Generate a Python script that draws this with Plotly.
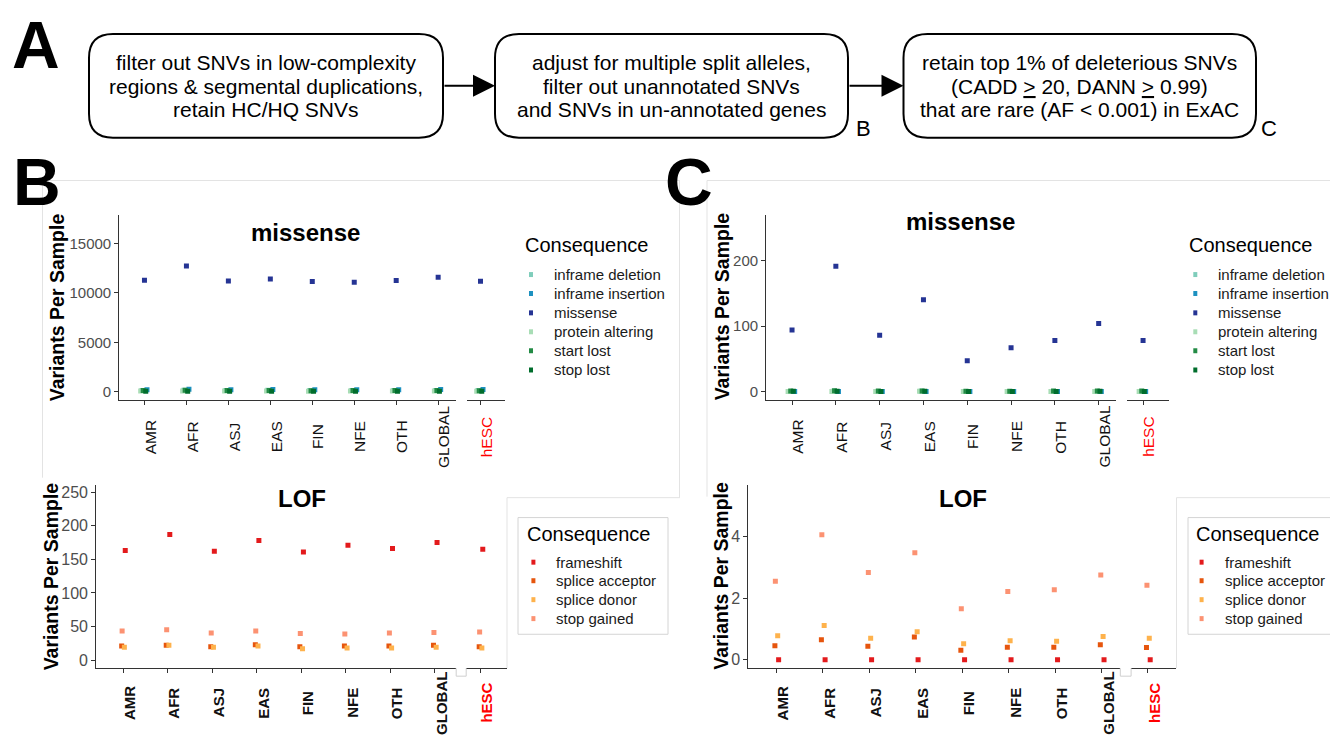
import plotly.graph_objects as go

W, H = 1330, 736
FONT = "Liberation Sans, Arial, Helvetica, sans-serif"


def px(x):
    return x / W


def py(y):
    return 1 - y / H


# ---------------- data ----------------
populations = ["AMR", "AFR", "ASJ", "EAS", "FIN", "NFE", "OTH", "GLOBAL"]
cell_lines = ["hESC"]

mis_consequences = ["inframe deletion", "inframe insertion", "missense",
                    "protein altering", "start lost", "stop lost"]
lof_consequences = ["frameshift", "splice acceptor", "splice donor", "stop gained"]

# Panel B (all HC/HQ SNVs) - order: populations..., hESC
b_inframe_deletion = [120, 140, 115, 130, 110, 120, 115, 125, 110]
b_inframe_insertion = [200, 240, 190, 210, 190, 195, 200, 205, 220]
b_missense = [11280, 12730, 11210, 11410, 11150, 11080, 11250, 11590, 11180]
b_protein_altering = [60, 70, 55, 65, 50, 60, 55, 60, 50]
b_start_lost = [110, 130, 105, 115, 100, 105, 105, 110, 100]
b_stop_lost = [40, 50, 40, 45, 38, 40, 40, 42, 40]

b_frameshift = [163, 187, 162, 178, 161, 171, 166, 175, 165]
b_splice_acceptor = [21, 22, 20, 23, 20, 21, 21, 22, 20]
b_splice_donor = [19, 22, 19, 21, 17, 18, 18, 19, 18]
b_stop_gained = [43.5, 45, 40.5, 43.5, 39.6, 39, 40.5, 41, 42]

# Panel C (rare deleterious SNVs)
c_inframe_deletion = [0.4, 0.5, 0.3, 0.6, 0.3, 0.3, 0.4, 0.4, 0.3]
c_inframe_insertion = [0.2, 0.3, 0.2, 0.4, 0.1, 0.2, 0.2, 0.2, 0.2]
c_missense = [94, 191, 86, 140, 47, 67, 78, 104, 78]
c_protein_altering = [0.3, 0.4, 0.3, 0.5, 0.2, 0.3, 0.3, 0.3, 0.3]
c_start_lost = [0.9, 1.2, 0.8, 1.0, 0.6, 0.7, 0.8, 0.9, 0.8]
c_stop_lost = [0.5, 0.6, 0.4, 0.5, 0.3, 0.4, 0.4, 0.5, 0.4]

c_frameshift = [0, 0, 0, 0, 0, 0, 0, 0, 0]
c_splice_acceptor = [0.46, 0.65, 0.44, 0.74, 0.31, 0.41, 0.41, 0.49, 0.40]
c_splice_donor = [0.78, 1.11, 0.70, 0.91, 0.52, 0.62, 0.60, 0.76, 0.70]
c_stop_gained = [2.55, 4.06, 2.83, 3.47, 1.66, 2.22, 2.27, 2.75, 2.42]

b_mis_ticks = [0, 5000, 10000, 15000]
c_mis_ticks = [0, 100, 200]
b_lof_ticks = [0, 50, 100, 150, 200, 250]
c_lof_ticks = [0, 2, 4]

# ---------------- styles ----------------
mis_colors = {"inframe deletion": "#7fcdbb", "inframe insertion": "#1d91c0",
              "missense": "#253494", "protein altering": "#a8ddb5",
              "start lost": "#238b45", "stop lost": "#006d2c"}
lof_colors = {"frameshift": "#e31a1c", "splice acceptor": "#e6550d",
              "splice donor": "#feb24c", "stop gained": "#fc9272"}
mis_offset = {"inframe deletion": -0.06, "inframe insertion": 0.06, "missense": 0.0,
              "protein altering": -0.09, "start lost": -0.03, "stop lost": 0.03}
lof_offset = {"frameshift": 0.05, "splice acceptor": -0.03,
              "splice donor": 0.03, "stop gained": -0.02}

panels = [
    dict(name="B_mis", xa="x", xb="x2", ya="y",
         series=dict(zip(mis_consequences, [b_inframe_deletion, b_inframe_insertion, b_missense,
                                             b_protein_altering, b_start_lost, b_stop_lost])),
         colors=mis_colors, offs=mis_offset,
         xdom_a=(119.3, 456.2), xr_a=(-0.6, 7.43), xdom_b=(467.1, 505.2), xr_b=(-0.32, 0.59),
         ydom=(215, 400), yr=(-840, 17850), yticks=b_mis_ticks, ytfs=15,
         label_y=437, label_fs=15.5, bold_labels=False,
         title="missense", title_xy=(305, 232), ytitle_xy=(56.4, 306.7),
         leg=dict(title_x=523, title_y=245, key_x=531, text_x=552,
                  rows=[274.3, 293.3, 312.7, 331.7, 350.7, 370], box=None)),
    dict(name="C_mis", xa="x3", xb="x4", ya="y2",
         series=dict(zip(mis_consequences, [c_inframe_deletion, c_inframe_insertion, c_missense,
                                             c_protein_altering, c_start_lost, c_stop_lost])),
         colors=mis_colors, offs=mis_offset,
         xdom_a=(766.2, 1116.2), xr_a=(-0.59, 7.4), xdom_b=(1126.5, 1169.2), xr_b=(-0.38, 0.6),
         ydom=(215, 400), yr=(-12.6, 268.5), yticks=c_mis_ticks, ytfs=15,
         label_y=437, label_fs=15.5, bold_labels=False,
         title="missense", title_xy=(960, 221), ytitle_xy=(721.5, 306.7),
         leg=dict(title_x=1186.6, title_y=245, key_x=1195.3, text_x=1216.1,
                  rows=[274.3, 293.3, 312.7, 331.7, 350.7, 370], box=None)),
    dict(name="B_lof", xa="x5", xb="x6", ya="y3",
         series=dict(zip(lof_consequences, [b_frameshift, b_splice_acceptor,
                                             b_splice_donor, b_stop_gained])),
         colors=lof_colors, offs=lof_offset,
         xdom_a=(96.3, 456.2), xr_a=(-0.6, 7.48), xdom_b=(466.2, 506.5), xr_b=(-0.32, 0.58),
         ydom=(485, 669), yr=(-12, 261), yticks=b_lof_ticks, ytfs=16,
         label_y=704, label_fs=15, bold_labels=True,
         title="LOF", title_xy=(302, 499), ytitle_xy=(51.2, 576.7),
         leg=dict(title_x=524.7, title_y=534, key_x=533.4, text_x=554.2,
                  rows=[562.7, 581.3, 600.3, 619.3], box=(518, 518, 668, 635))),
    dict(name="C_lof", xa="x7", xb="x8", ya="y4",
         series=dict(zip(lof_consequences, [c_frameshift, c_splice_acceptor,
                                             c_splice_donor, c_stop_gained])),
         colors=lof_colors, offs=lof_offset,
         xdom_a=(748.4, 1120.3), xr_a=(-0.6, 7.4), xdom_b=(1131.1, 1176.3), xr_b=(-0.36, 0.61),
         ydom=(485, 669), yr=(-0.27, 5.68), yticks=c_lof_ticks, ytfs=16,
         label_y=704, label_fs=15, bold_labels=True,
         title="LOF", title_xy=(963, 499), ytitle_xy=(721.5, 576.7),
         leg=dict(title_x=1194, title_y=534, key_x=1201.6, text_x=1223.1,
                  rows=[562.7, 581.3, 600.3, 619.3], box=(1188, 518, 1345, 635))),
]

fig = go.Figure()
annotations = []
shapes = []


def axis_key(ref):
    return ref.replace("x", "xaxis").replace("y", "yaxis")


layout_axes = {}
AX_COL = "#333333"

for p in panels:
    n_pop = len(populations)
    for cons, vals in p["series"].items():
        off = p["offs"][cons]
        col = p["colors"][cons]
        fig.add_trace(go.Scatter(
            x=[i + off for i in range(n_pop)], y=vals[:n_pop],
            xaxis=p["xa"], yaxis=p["ya"], mode="markers", name=cons,
            marker=dict(symbol="square", size=5, color=col),
            text=populations, hovertemplate="%{text}: %{y}<extra>" + cons + "</extra>",
            showlegend=False))
        fig.add_trace(go.Scatter(
            x=[i + off for i in range(len(cell_lines))], y=vals[n_pop:],
            xaxis=p["xb"], yaxis=p["ya"], mode="markers", name=cons,
            marker=dict(symbol="square", size=5, color=col),
            text=cell_lines, hovertemplate="%{text}: %{y}<extra>" + cons + "</extra>",
            showlegend=False))

    ykey = axis_key(p["ya"])
    xka = axis_key(p["xa"])
    xkb = axis_key(p["xb"])
    common_x = dict(showline=True, linecolor=AX_COL, linewidth=1.2, ticks="outside",
                    ticklen=4, tickcolor=AX_COL, tickwidth=1.2, showgrid=False,
                    zeroline=False, showticklabels=False, fixedrange=True)
    layout_axes[xka] = dict(common_x, domain=[px(p["xdom_a"][0]), px(p["xdom_a"][1])],
                            range=list(p["xr_a"]), anchor=p["ya"],
                            tickvals=list(range(len(populations))))
    layout_axes[xkb] = dict(common_x, domain=[px(p["xdom_b"][0]), px(p["xdom_b"][1])],
                            range=list(p["xr_b"]), anchor=p["ya"],
                            tickvals=list(range(len(cell_lines))))
    layout_axes[ykey] = dict(showline=True, linecolor=AX_COL, linewidth=1.2, ticks="outside",
                             ticklen=4, tickcolor=AX_COL, tickwidth=1.2, showgrid=False,
                             zeroline=False, domain=[py(p["ydom"][1]), py(p["ydom"][0])],
                             range=list(p["yr"]), anchor=p["xa"], tickvals=p["yticks"],
                             ticktext=[str(v) for v in p["yticks"]],
                             tickfont=dict(family=FONT, size=p["ytfs"], color="#4d4d4d"),
                             fixedrange=True)

    for i, lab in enumerate(populations):
        txt = f"<b>{lab}</b>" if p["bold_labels"] else lab
        annotations.append(dict(x=i, y=py(p["label_y"]), xref=p["xa"], yref="paper",
                                text=txt, textangle=-90, showarrow=False, xshift=6,
                                xanchor="center", yanchor="middle",
                                font=dict(family=FONT, size=p["label_fs"], color="#111111")))
    for i, lab in enumerate(cell_lines):
        txt = f"<b>{lab}</b>" if p["bold_labels"] else lab
        annotations.append(dict(x=i, y=py(p["label_y"]), xref=p["xb"], yref="paper",
                                text=txt, textangle=-90, showarrow=False, xshift=6,
                                xanchor="center", yanchor="middle",
                                font=dict(family=FONT, size=p["label_fs"], color="#ff0000")))
    annotations.append(dict(x=px(p["title_xy"][0]), y=py(p["title_xy"][1]), xref="paper",
                            yref="paper", text=f"<b>{p['title']}</b>", showarrow=False,
                            xanchor="center", yanchor="middle",
                            font=dict(family=FONT, size=24, color="black")))
    annotations.append(dict(x=px(p["ytitle_xy"][0]), y=py(p["ytitle_xy"][1]), xref="paper",
                            yref="paper", text="<b>Variants Per Sample</b>", textangle=-90,
                            showarrow=False, xanchor="center", yanchor="middle",
                            font=dict(family=FONT, size=19.5, color="black")))
    lg = p["leg"]
    if lg["box"] is not None:
        bx0, by0, bx1, by1 = lg["box"]
        shapes.append(dict(type="rect", xref="paper", yref="paper",
                           x0=px(bx0), x1=px(bx1), y0=py(by1), y1=py(by0),
                           line=dict(color="#d4d4d4", width=1), fillcolor="white", layer="below"))
    annotations.append(dict(x=px(lg["title_x"]), y=py(lg["title_y"]), xref="paper",
                            yref="paper", text="Consequence", showarrow=False,
                            xanchor="left", yanchor="middle",
                            font=dict(family=FONT, size=20, color="black")))
    for cons, ry in zip(p["series"].keys(), lg["rows"]):
        shapes.append(dict(type="rect", xref="paper", yref="paper",
                           x0=px(lg["key_x"] - 2), x1=px(lg["key_x"] + 2),
                           y0=py(ry + 2.5), y1=py(ry - 2.5),
                           line=dict(width=0), fillcolor=p["colors"][cons]))
        annotations.append(dict(x=px(lg["text_x"]), y=py(ry), xref="paper", yref="paper",
                                text=cons, showarrow=False, xanchor="left", yanchor="middle",
                                font=dict(family=FONT, size=15, color="#1a1a1a")))

# ---------------- decorations: panel borders ----------------
GRID_C = "#e3e3e3"


def hline(x0, x1, y, col=GRID_C):
    shapes.append(dict(type="line", xref="paper", yref="paper", x0=px(x0), x1=px(x1),
                       y0=py(y), y1=py(y), line=dict(color=col, width=1), layer="below"))


def vline(x, y0, y1, col=GRID_C):
    shapes.append(dict(type="line", xref="paper", yref="paper", x0=px(x), x1=px(x),
                       y0=py(y0), y1=py(y1), line=dict(color=col, width=1), layer="below"))


hline(42, 680, 180)
hline(707, 1330, 180)
vline(42.5, 180, 478)
vline(679.5, 180, 498)
vline(707, 180, 497)
hline(507, 680, 498)
vline(507, 498, 669)
hline(1176.5, 1330, 498)
vline(1176.5, 498, 669)
for nx0, nx1 in [(456.2, 466.2), (1120.3, 1131.1)]:
    shapes.append(dict(type="path", xref="paper", yref="paper",
                       path=f"M {px(nx0)},{py(669)} L {px(nx0)},{py(677)} L {px(nx1)},{py(677)} L {px(nx1)},{py(669)}",
                       line=dict(color="#cfcfcf", width=1)))


# ---------------- panel A flowchart ----------------
def rounded_box(x0, y0, x1, y1, r=24):
    rx, ry = r / W, r / H
    X0, X1, Y0, Y1 = px(x0), px(x1), py(y0), py(y1)
    path = (f"M {X0+rx},{Y0} L {X1-rx},{Y0} Q {X1},{Y0} {X1},{Y0-ry} "
            f"L {X1},{Y1+ry} Q {X1},{Y1} {X1-rx},{Y1} L {X0+rx},{Y1} "
            f"Q {X0},{Y1} {X0},{Y1+ry} L {X0},{Y0-ry} Q {X0},{Y0} {X0+rx},{Y0} Z")
    shapes.append(dict(type="path", xref="paper", yref="paper", path=path,
                       line=dict(color="black", width=2), fillcolor="white"))


boxes = [
    (89, 33, 443, 137, ["filter out SNVs in low-complexity",
                        "regions &amp; segmental duplications,",
                        "retain HC/HQ SNVs"]),
    (495, 33, 848, 137, ["adjust for multiple split alleles,",
                         "filter out unannotated SNVs",
                         "and SNVs in un-annotated genes"]),
    (903.5, 33, 1256, 137, ["retain top 1% of deleterious SNVs",
                            "(CADD <u>></u> 20, DANN <u>></u> 0.99)",
                            "that are rare (AF &lt; 0.001) in ExAC"]),
]
line_y = [62, 85.5, 109]
for x0, y0, x1, y1, lines in boxes:
    rounded_box(x0, y0, x1, y1)
    for ly, t in zip(line_y, lines):
        annotations.append(dict(x=px((x0 + x1) / 2), y=py(ly), xref="paper", yref="paper",
                                text=t, showarrow=False, xanchor="center", yanchor="middle",
                                font=dict(family=FONT, size=21, color="black")))

for ax0, ax1, ay in [(443, 495, 85), (848, 903.5, 85)]:
    annotations.append(dict(x=px(ax1), y=py(ay), ax=-(ax1 - ax0), ay=0, xref="paper",
                            yref="paper", axref="pixel", ayref="pixel", text="",
                            showarrow=True, arrowhead=2, arrowsize=2.2, arrowwidth=2,
                            arrowcolor="black", standoff=0))

for lab, lx, ly in [("B", 863, 128), ("C", 1269, 128)]:
    annotations.append(dict(x=px(lx), y=py(ly), xref="paper", yref="paper", text=lab,
                            showarrow=False, xanchor="center", yanchor="middle",
                            font=dict(family=FONT, size=22, color="black")))

for lab, lx, ly in [("A", 36, 44), ("B", 37, 181), ("C", 689, 181)]:
    annotations.append(dict(x=px(lx), y=py(ly), xref="paper", yref="paper",
                            text=f"<b>{lab}</b>", showarrow=False, xanchor="center",
                            yanchor="middle", font=dict(family=FONT, size=66, color="black")))

fig.update_layout(
    width=W, height=H, margin=dict(l=0, r=0, t=0, b=0, pad=0),
    paper_bgcolor="white", plot_bgcolor="rgba(0,0,0,0)",
    showlegend=False, annotations=annotations, shapes=shapes,
    font=dict(family=FONT, color="black"),
    **layout_axes,
)

fig.write_html("out.html", config={"displayModeBar": False},
               post_script="document.body.style.margin='0';document.body.style.overflow='hidden';")
